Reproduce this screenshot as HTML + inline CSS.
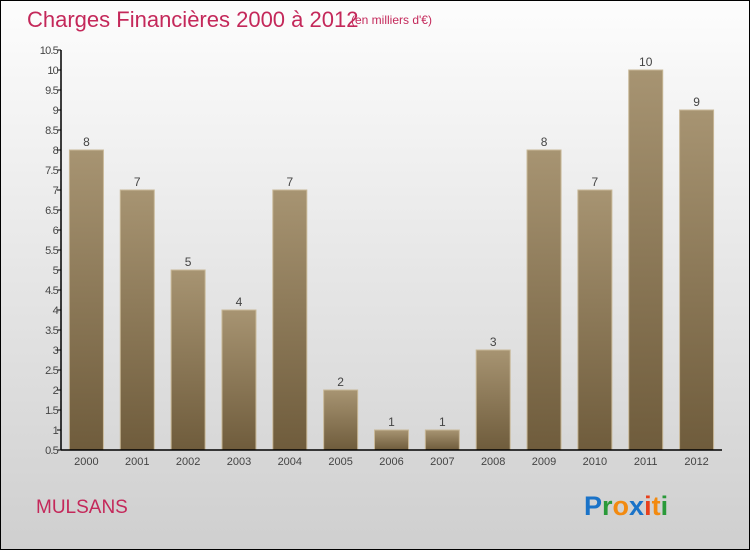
<!DOCTYPE html>
<html><head><meta charset="utf-8"><style>
body{margin:0;width:750px;height:550px;overflow:hidden;font-family:"Liberation Sans",sans-serif}
</style></head><body>
<svg width="750" height="550" xmlns="http://www.w3.org/2000/svg">
<defs>
<linearGradient id="bg" x1="0" y1="0" x2="0" y2="1"><stop offset="0" stop-color="#fdfdfd"/><stop offset="1" stop-color="#cfcfcf"/></linearGradient>
<linearGradient id="bar" x1="0" y1="0" x2="0" y2="1"><stop offset="0" stop-color="#a79472"/><stop offset="1" stop-color="#6f5c3c"/></linearGradient>
</defs>
<rect x="0.5" y="0.5" width="749" height="549" fill="url(#bg)" stroke="#000"/>
<text x="27" y="27" font-size="22" fill="#c4285a">Charges Financières 2000 à 2012</text>
<text x="351" y="24" font-size="12" fill="#c4285a">(en milliers d'€)</text>
<g id="plot"></g>
<text x="36" y="513" font-size="19" fill="#c4285a">MULSANS</text>
<g font-size="27" font-weight="bold">
<text x="584" y="515"><tspan fill="#1a73c8">P</tspan><tspan fill="#2a9a3a">r</tspan><tspan fill="#f28a10">o</tspan><tspan fill="#1a73c8">x</tspan><tspan fill="#e8401c">i</tspan><tspan fill="#f28a10">t</tspan><tspan fill="#2a9a3a">i</tspan></text>
</g>
</svg>
<script>
const categories=["2000","2001","2002","2003","2004","2005","2006","2007","2008","2009","2010","2011","2012"];
const values=[8,7,5,4,7,2,1,1,3,8,7,10,9];
const ticks=[0.5,1,1.5,2,2.5,3,3.5,4,4.5,5,5.5,6,6.5,7,7.5,8,8.5,9,9.5,10,10.5];
const NS="http://www.w3.org/2000/svg";
const g=document.getElementById('plot');
const x0=61,x1=722,yMin=0.5,yMax=10.5,yTop=50,yBot=450;
const step=(x1-x0)/categories.length;
function y(v){return yBot-(v-yMin)/(yMax-yMin)*(yBot-yTop);}
function xc(i){return x0+(i+0.5)*step;}
function mk(t,a){const e=document.createElementNS(NS,t);for(const k in a)e.setAttribute(k,a[k]);g.appendChild(e);return e;}
values.forEach((v,i)=>{
 const r=mk('rect',{x:xc(i)-17,y:y(v),width:34,height:yBot-y(v),fill:'url(#bar)',stroke:'#c8b898','stroke-width':1});
 
 
 const t=mk('text',{x:xc(i),y:y(v)-4,'font-size':12,'text-anchor':'middle',fill:'#444'});
 t.textContent=v;
 
 
 const c=mk('text',{x:xc(i),y:yBot+15,'font-size':11,'text-anchor':'middle',fill:'#444'});
 c.textContent=categories[i];
 
 
});
ticks.forEach(tv=>{
 const l=mk('line',{x1:x0-4,x2:x0,y1:y(tv),y2:y(tv),stroke:'#000'});
 
 
 const t=mk('text',{x:x0-3,y:y(tv)+4,'font-size':11,'text-anchor':'end',fill:'#444','letter-spacing':'-0.8'});
 t.textContent=tv;
 
 
});
const ya=mk('line',{x1:x0,x2:x0,y1:yTop,y2:yBot,stroke:'#000','stroke-width':1.5});


const xa=mk('line',{x1:x0,x2:x1,y1:yBot,y2:yBot,stroke:'#000','stroke-width':1.5});


</script>
</body></html>
